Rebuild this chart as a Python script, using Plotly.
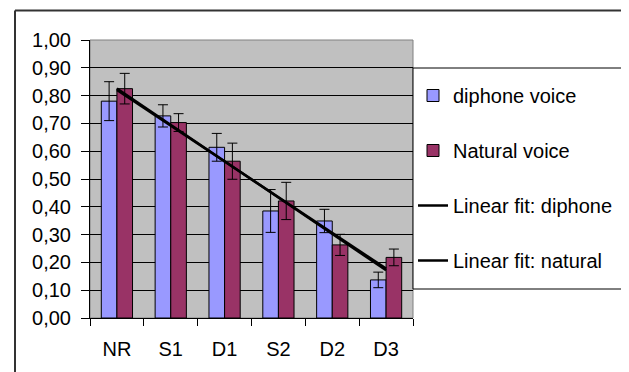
import numpy as np
import plotly.graph_objects as go

categories = ["NR", "S1", "D1", "S2", "D2", "D3"]
diphone = [0.78, 0.727, 0.614, 0.385, 0.349, 0.137]
diphone_err = [0.07, 0.04, 0.05, 0.077, 0.042, 0.028]
natural = [0.825, 0.703, 0.564, 0.421, 0.263, 0.218]
natural_err = [0.055, 0.032, 0.065, 0.067, 0.038, 0.03]

FONT = "Liberation Sans, Arial, sans-serif"
BLUE = "#9999ff"
RED = "#993366"

# page body has an 8px margin, so the figure is shifted up/left by that much
OFF = 8
PL, PT, PW, PH = 90 - OFF, 40 - OFF, 323, 278  # plot area in figure px


def px(x):
    return (x - OFF - PL) / PW


def py(y):
    return (PT + PH - (y - OFF)) / PH


# linear fits, as Excel would draw them
idx = np.arange(len(categories))
fit_d = np.polyval(np.polyfit(idx, diphone, 1), idx)
fit_n = np.polyval(np.polyfit(idx, natural, 1), idx)

fig = go.Figure()
fig.add_trace(go.Bar(
    x=categories, y=diphone, name="diphone voice", legendgroup="a",
    marker=dict(color=BLUE, line=dict(color="black", width=1)),
    error_y=dict(type="data", array=diphone_err, color="black", thickness=1, width=5),
))
fig.add_trace(go.Bar(
    x=categories, y=natural, name="Natural voice", legendgroup="b",
    marker=dict(color=RED, line=dict(color="black", width=1)),
    error_y=dict(type="data", array=natural_err, color="black", thickness=1, width=5),
))
fig.add_trace(go.Scatter(
    x=categories, y=fit_d, mode="lines", name="Linear fit: diphone", legendgroup="c",
    line=dict(color="black", width=2.5),
))
fig.add_trace(go.Scatter(
    x=categories, y=fit_n, mode="lines", name="Linear fit: natural", legendgroup="d",
    line=dict(color="black", width=2.5),
))

# outer chart frame (only top and left edges are visible)
fig.add_shape(type="line", xref="paper", yref="paper",
              x0=px(15), x1=px(640), y0=py(10.5), y1=py(10.5),
              line=dict(color="#333333", width=2))
fig.add_shape(type="line", xref="paper", yref="paper",
              x0=px(15), x1=px(15), y0=py(10.5), y1=py(390),
              line=dict(color="#333333", width=2))
# plot area border (grey)
fig.add_shape(type="rect", xref="paper", yref="paper", x0=0, x1=1, y0=0, y1=1,
              line=dict(color="#808080", width=1), layer="below")
# legend box
fig.add_shape(type="rect", xref="paper", yref="paper",
              x0=px(413), x1=px(640), y0=py(289), y1=py(68),
              fillcolor="white", line=dict(color="black", width=1), layer="above")

fig.update_layout(
    width=629, height=372,
    margin=dict(l=PL, r=629 - PL - PW, t=PT, b=372 - PT - PH, autoexpand=False),
    paper_bgcolor="white", plot_bgcolor="#c0c0c0",
    separators=", ",
    barmode="group", bargap=0.42, bargroupgap=0,
    font=dict(family=FONT, size=20, color="black"),
    showlegend=True,
    legend=dict(
        x=1.0, xanchor="left", y=py(76), yanchor="top",
        bgcolor="rgba(0,0,0,0)", borderwidth=0,
        traceorder="grouped", tracegroupgap=26,
        font=dict(family=FONT, size=20, color="black"),
        itemwidth=30, entrywidth=184, entrywidthmode="pixels",
    ),
    xaxis=dict(
        showline=True, linecolor="black", linewidth=1,
        ticks="outside", ticklen=7, tickcolor="black", tickson="boundaries",
        ticklabelstandoff=13, showgrid=False,
    ),
    yaxis=dict(
        range=[0, 1.0], dtick=0.1, tickformat=".2f",
        showline=True, linecolor="black", linewidth=1,
        ticks="outside", ticklen=8, tickcolor="black",
        showgrid=True, gridcolor="black", gridwidth=1,
        zeroline=False, ticklabelstandoff=6,
    ),
)

fig.write_html("out.html")
